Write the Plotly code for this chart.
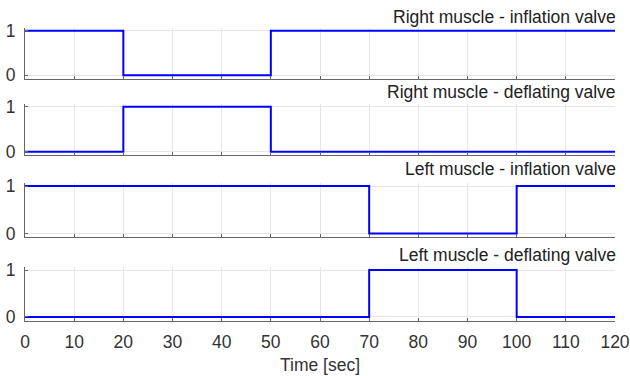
import plotly.graph_objects as go

# Data
right_times = [0, 20, 50, 120]
right_inflation = [1, 0, 1, 1]
right_deflating = [0, 1, 0, 0]
left_times = [0, 70, 100, 120]
left_inflation = [1, 0, 1, 1]
left_deflating = [0, 1, 0, 0]
titles = ["Right muscle - inflation valve", "Right muscle - deflating valve",
          "Left muscle - inflation valve", "Left muscle - deflating valve"]
x_ticks = list(range(0, 121, 10))
y_ticks = [0, 1]

series = [(right_times, right_inflation), (right_times, right_deflating),
          (left_times, left_inflation), (left_times, left_deflating)]

W, H = 630, 376
mt, mb, ml, mr = 28, 55, 25, 15
ph = H - mt - mb

def frac(pix):
    return (H - mb - pix) / ph

domains_px = [(28, 78.7), (104, 155.3), (183.2, 237.3), (267.3, 320.7)]
title_px = [17, 92, 169, 255]

FONT = "Liberation Sans, Arial, sans-serif"
FS = 17.5
fig = go.Figure()
layout = {}
for i, ((t, v), (top, bot)) in enumerate(zip(series, domains_px)):
    n = "" if i == 0 else str(i + 1)
    fig.add_trace(go.Scatter(x=t, y=v, mode="lines", line=dict(color="#0000ff", width=2, shape="hv"),
                             xaxis="x" + n, yaxis="y" + n, showlegend=False, hoverinfo="skip"))
    last = i == 3
    layout["xaxis" + n] = dict(
        domain=[0, 1], range=[0, 120], anchor="y" + n, tickvals=x_ticks, automargin=False,
        showticklabels=last, ticks="inside", ticklen=3, tickcolor="#666", tickwidth=1,
        showgrid=True, gridcolor="#e6e6e6", gridwidth=1, zeroline=False,
        showline=True, linecolor="#666", linewidth=1,
        tickfont=dict(size=FS, color="#333", family=FONT),
        ticklabelstandoff=5 if last else 0,
        matches="x" if i > 0 else None,
    )
    if last:
        layout["xaxis" + n]["title"] = dict(text="Time [sec]", font=dict(size=FS, color="#333", family=FONT), standoff=8)
    layout["yaxis" + n] = dict(
        domain=[max(0, frac(bot)), min(1, frac(top))], range=[-0.08, 1.06], anchor="x" + n,
        tickvals=y_ticks, ticks="inside", ticklen=3, tickcolor="#666", tickwidth=1, automargin=False,
        showgrid=True, gridcolor="#e6e6e6", gridwidth=1, zeroline=False,
        showline=True, linecolor="#666", linewidth=1,
        tickfont=dict(size=FS, color="#333", family=FONT), ticklabelstandoff=5,
    )

annotations = []
for title, ty in zip(titles, title_px):
    annotations.append(dict(text=title, xref="paper", yref="paper", x=1.005, y=frac(ty),
                            xanchor="right", yanchor="middle", showarrow=False,
                            font=dict(size=FS, color="#222", family=FONT)))

fig.update_layout(
    width=W, height=H, margin=dict(l=ml, r=mr, t=mt, b=mb),
    paper_bgcolor="white", plot_bgcolor="white",
    annotations=annotations, **layout,
)
fig.write_html("out.html")
